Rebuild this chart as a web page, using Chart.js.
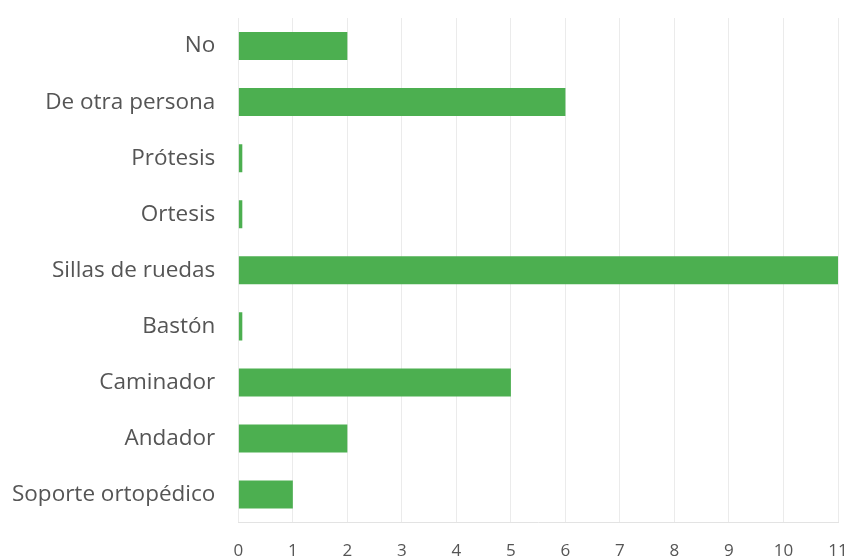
<!DOCTYPE html>
<html>
<head>
<meta charset="utf-8">
<script src="https://cdn.jsdelivr.net/npm/chart.js@4"></script>
<style>
  html, body { margin: 0; padding: 0; background: #fff; }
  #wrap { width: 850px; height: 560px; }
</style>
</head>
<body>
<div id="wrap"><canvas id="ayudasChart" width="850" height="560"></canvas></div>
<script>
const categorias = ["No", "De otra persona", "Prótesis", "Ortesis", "Sillas de ruedas", "Bastón", "Caminador", "Andador", "Soporte ortopédico"];
const valores = [2, 6, 0, 0, 11, 0, 5, 2, 1];
const ticksX = [0, 1, 2, 3, 4, 5, 6, 7, 8, 9, 10, 11];

document.addEventListener("DOMContentLoaded", function () {
  const ctx = document.getElementById("ayudasChart").getContext("2d");

  new Chart(ctx, {
    type: "bar",
    data: {
      labels: categorias,
      datasets: [
        {
          label: "Respuestas",
          data: valores,
          backgroundColor: "#4caf50",
          borderWidth: 0,
          minBarLength: 4,
          barPercentage: 0.5,
          categoryPercentage: 1.0,
        },
      ],
    },
    options: {
      indexAxis: "y",
      responsive: false,
      animation: false,
      layout: { padding: { left: -3, top: 18, right: 12, bottom: -19 } },
      plugins: {
        legend: { display: false },
        tooltip: { enabled: false },
      },
      scales: {
        x: {
          min: 0,
          max: 11,
          afterBuildTicks: function (axis) {
            axis.ticks = ticksX.map(function (v) { return { value: v }; });
          },
          afterFit: function (axis) {
            axis.paddingLeft = 0;
            axis.paddingRight = 0;
          },
          grid: { color: "#ebebeb", drawTicks: false },
          border: { color: "#e3e3e3" },
          ticks: {
            color: "#555",
            padding: 18,
            font: { family: "Open Sans", size: 17 },
          },
        },
        y: {
          afterFit: function (axis) {
            axis.paddingTop = 0;
            axis.paddingBottom = 0;
          },
          grid: { display: false },
          border: { display: false },
          ticks: {
            color: "#555",
            padding: 15,
            font: { family: "Open Sans", size: 22.5 },
          },
        },
      },
    },
  });
});
</script>
</body>
</html>
